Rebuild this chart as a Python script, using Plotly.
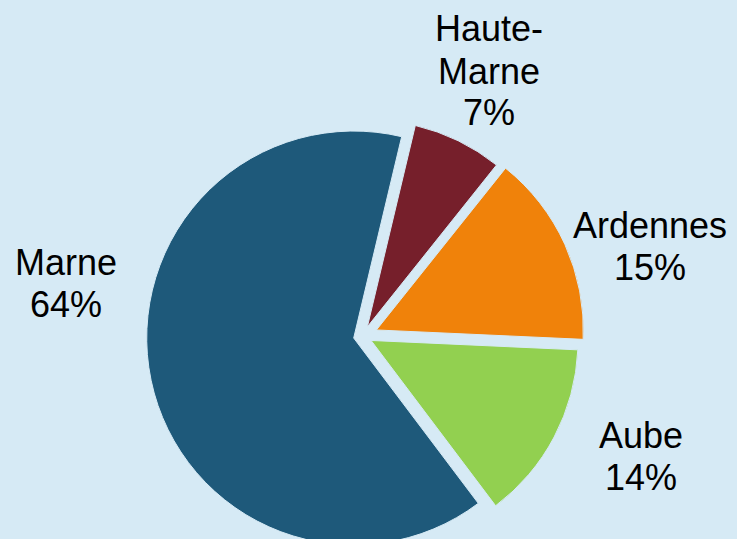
import plotly.graph_objects as go

# Data
categories = ["Haute-Marne", "Ardennes", "Aube", "Marne"]
values = [7, 15, 14, 64]
colors = ["#761f2b", "#f0820a", "#92d050", "#1e597a"]
pulls = [0.05, 0.072, 0.045, 0.045]

BG = "#d6eaf5"
W, H = 737, 558

total = sum(values)
pcts = [round(v * 100 / total) for v in values]

fig = go.Figure()
fig.add_trace(go.Pie(
    labels=categories,
    values=values,
    sort=False,
    direction="clockwise",
    rotation=13.4,
    pull=pulls,
    marker=dict(colors=colors, line=dict(color=BG, width=1)),
    textinfo="none",
    hoverinfo="label+percent",
    showlegend=False,
    domain=dict(x=[0.0423, 0.9423], y=[0.0, 0.7953]),
))

# label anchor: (x center px, y center of first line px)
label_pos = {
    "Haute-Marne": (489, 29),
    "Ardennes": (650, 225),
    "Aube": (641, 435),
    "Marne": (66, 262),
}
LINE_GAP = 42
FONT = dict(family="Liberation Sans, Arial, sans-serif", size=36, color="black")

for cat, p in zip(categories, pcts):
    px, py = label_pos[cat]
    lines = cat.replace("-", "-\n").split("\n") + [f"{p}%"]
    for i, line in enumerate(lines):
        fig.add_annotation(
            x=px / W, y=1 - (py + i * LINE_GAP) / H, xref="paper", yref="paper",
            text=line, showarrow=False, xanchor="center", yanchor="middle",
            font=FONT, align="center",
        )

fig.update_layout(
    width=W, height=H,
    margin=dict(l=0, r=0, t=0, b=0),
    paper_bgcolor=BG, plot_bgcolor=BG,
)

fig.write_html("out.html", config={"displayModeBar": False},
               post_script="document.body.style.margin='0';document.body.style.overflow='hidden';")
